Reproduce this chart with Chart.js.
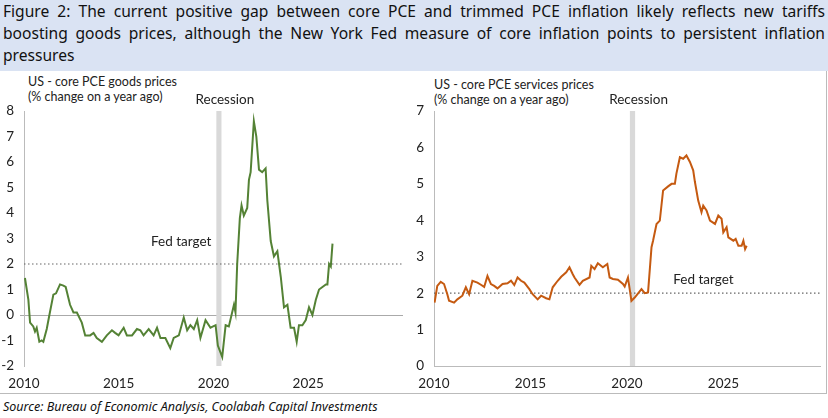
<!DOCTYPE html>
<html><head><meta charset="utf-8">
<script src="https://cdn.jsdelivr.net/npm/chart.js"></script>
<style>
body{margin:0;width:828px;height:418px;background:#fff;position:relative;overflow:hidden;font-family:Lato,sans-serif}
#title{position:absolute;left:0;top:0;width:822px;height:71px;background:#dae3f3;padding:0 3px;font-family:"Noto Sans",sans-serif;font-size:15.6px;line-height:22px;text-align:justify;color:#111;box-sizing:content-box}
#frame{position:absolute;left:0;top:71px;width:826px;height:322px;border-right:1px solid #bbb;border-bottom:1px solid #bbb}
canvas{position:absolute}
#src{position:absolute;left:3px;top:398px;font-family:"Noto Sans",sans-serif;font-style:italic;font-size:12.5px;color:#111}
.yt{position:absolute;font-size:12.5px;line-height:15px;color:#222}
</style></head><body>
<div id="title">Figure 2: The current positive gap between core PCE and trimmed PCE inflation likely reflects new tariffs boosting goods prices, although the New York Fed measure of core inflation points to persistent inflation pressures</div>
<div id="frame"></div>
<div class="yt" style="left:28px;top:74px">US - core PCE goods prices<br>(% change on a year ago)</div>
<div class="yt" style="left:434px;top:77px">US - core PCE services prices<br>(% change on a year ago)</div>
<div style="position:absolute;left:0;top:72px;width:414px;height:323px"><canvas id="c1"></canvas></div>
<div style="position:absolute;left:410px;top:72px;width:418px;height:323px"><canvas id="c2"></canvas></div>
<div id="src">Source: Bureau of Economic Analysis, Coolabah Capital Investments</div>
<script>
const xTicks=[2010,2015,2020,2025];
const goodsYears=[2010.05,2010.23,2010.32,2010.49,2010.58,2010.67,2010.81,2010.93,2011.02,2011.2,2011.34,2011.55,2011.69,2011.9,2012.08,2012.2,2012.43,2012.61,2012.79,2013.05,2013.23,2013.49,2013.67,2013.84,2014.11,2014.37,2014.64,2014.81,2014.99,2015.26,2015.43,2015.7,2015.96,2016.14,2016.31,2016.58,2016.84,2017.02,2017.2,2017.46,2017.72,2017.9,2018.17,2018.43,2018.61,2018.78,2018.96,2019.14,2019.31,2019.58,2019.84,2020.11,2020.23,2020.46,2020.64,2020.81,2021.08,2021.16,2021.25,2021.39,2021.48,2021.6,2021.78,2021.87,2021.96,2022.13,2022.26,2022.4,2022.57,2022.75,2022.84,2023.02,2023.19,2023.37,2023.55,2023.72,2023.9,2024.07,2024.25,2024.39,2024.51,2024.69,2024.87,2025.04,2025.22,2025.4,2025.57,2025.75,2025.93,2026.01,2026.1,2026.19,2026.28];
const goodsValues=[1.45,0.6,-0.3,-0.45,-0.65,-0.5,-1.05,-1.0,-1.05,-0.55,0,0.8,0.85,1.2,1.15,1.1,0.4,0.1,0.1,-0.3,-0.8,-0.8,-0.7,-0.9,-1.05,-0.8,-0.6,-0.7,-0.8,-0.5,-0.8,-0.8,-0.55,-0.6,-0.8,-0.55,-0.8,-0.5,-0.9,-0.9,-1.3,-0.9,-0.8,-0.1,-0.6,-0.4,-0.55,-0.2,-0.9,-0.2,-0.5,-0.4,-1.2,-1.65,-0.4,-0.45,0.4,0.1,2.0,3.8,4.3,3.9,4.2,5.3,5.6,7.6,7.0,5.7,5.6,5.75,4.5,2.9,2.3,2.5,1.5,0.3,0.4,-0.5,-0.5,-1.05,-0.4,-0.4,-0.2,0.3,0.0,0.6,1.0,1.1,1.2,1.2,2.0,1.9,2.8];
const servYears=[2010.03,2010.17,2010.35,2010.52,2010.69,2010.78,2011.04,2011.21,2011.47,2011.65,2011.82,2011.99,2012.25,2012.43,2012.6,2012.77,2012.95,2013.12,2013.29,2013.55,2013.81,2013.99,2014.16,2014.33,2014.51,2014.68,2014.94,2015.11,2015.37,2015.55,2015.81,2015.98,2016.15,2016.41,2016.59,2016.85,2017.02,2017.19,2017.28,2017.54,2017.71,2018.06,2018.15,2018.32,2018.49,2018.75,2018.98,2019.1,2019.27,2019.53,2019.79,2019.88,2020.05,2020.23,2020.4,2020.75,2020.92,2021.09,2021.27,2021.35,2021.53,2021.7,2021.87,2022.13,2022.31,2022.48,2022.56,2022.74,2022.91,2023.08,2023.26,2023.43,2023.52,2023.69,2023.86,2023.95,2024.12,2024.3,2024.56,2024.73,2024.9,2024.99,2025.16,2025.25,2025.51,2025.63,2025.77,2025.94,2026.03,2026.12,2026.2];
const servValues=[1.74,2.2,2.31,2.25,1.97,1.79,1.74,1.83,1.93,2.16,1.97,2.34,2.29,2.23,2.17,2.47,2.25,2.2,2.13,2.25,2.27,2.34,2.22,2.43,2.34,2.29,2.11,1.97,1.83,1.93,1.86,1.83,2.16,2.34,2.45,2.57,2.71,2.52,2.43,2.23,2.34,2.43,2.75,2.66,2.82,2.71,2.8,2.43,2.39,2.37,2.25,2.18,2.43,1.79,1.88,2.11,2.0,2.02,3.26,3.44,3.9,3.99,4.82,4.93,5.0,5.0,5.28,5.73,5.69,5.78,5.6,5.37,5.05,4.54,4.22,4.4,4.27,3.99,3.9,4.13,4.04,3.67,3.81,3.53,3.44,3.49,3.3,3.3,3.44,3.21,3.3];
const fedTarget=2, recStart=2020.15, recEnd=2020.42;

function pts(xs,ys){return xs.map((x,i)=>({x,y:ys[i]}));}
const extras=(fedPos)=>({
  id:'extras',
  beforeDatasetsDraw(ch){
    const {ctx,chartArea:a,scales:{x,y}}=ch;
    ctx.save();
    ctx.fillStyle='#d9d9d9';
    ctx.fillRect(x.getPixelForValue(recStart),a.top,x.getPixelForValue(recEnd)-x.getPixelForValue(recStart),a.bottom-a.top);
    ctx.strokeStyle='#666';ctx.lineWidth=1.2;ctx.setLineDash([1.5,2.5]);
    const yy=y.getPixelForValue(fedTarget);
    ctx.beginPath();ctx.moveTo(a.left,yy);ctx.lineTo(a.right,yy);ctx.stroke();
    ctx.setLineDash([]);
    ctx.fillStyle='#222';ctx.font='13.5px Lato';ctx.textAlign='center';ctx.textBaseline='middle';
    ctx.fillText('Recession',x.getPixelForValue(2020.6),a.top-11);
    ctx.textAlign='left';
    ctx.fillText('Fed target',x.getPixelForValue(fedPos[0]),y.getPixelForValue(fedPos[1]));
    ctx.restore();
  }
});
function make(id,xs,ys,color,ymin,ymax,yw,padR,fedPos,zeroLine){
  new Chart(document.getElementById(id),{
    type:'line',
    data:{datasets:[{data:pts(xs,ys),borderColor:color,borderWidth:2,pointRadius:0,tension:0}]},
    options:{responsive:true,maintainAspectRatio:false,animation:false,
      layout:{padding:{top:39,right:padR,left:0,bottom:0}},
      plugins:{legend:{display:false},tooltip:{enabled:false}},
      scales:{
        x:{type:'linear',min:2010,max:2030,afterBuildTicks(s){s.ticks=xTicks.map(v=>({value:v}));},
          afterFit(s){s.height=29;},
          ticks:{color:'#222',font:{family:'Lato',size:13.5},maxRotation:0,padding:2,callback:v=>String(v)},
          grid:{display:false},border:{display:!zeroLine,color:'#bbb'}},
        y:{min:ymin,max:ymax,afterFit(s){s.width=yw;},
          ticks:{stepSize:1,color:'#222',font:{family:'Lato',size:13.5},padding:6},
          grid:{drawTicks:true,tickLength:4,color:c=>(zeroLine&&c.tick&&c.tick.value===0)?'#aaa':'rgba(0,0,0,0)',lineWidth:1},
          border:{color:'#bbb'}}
      }},
    plugins:[extras(fedPos)]
  });
}
make('c1',goodsYears,goodsValues,'#548235',-2,8,24,11,[2016.7,2.87],true);
make('c2',servYears,servValues,'#c55a11',0,7,24,8,[2022.4,2.36],false);
</script></body></html>
